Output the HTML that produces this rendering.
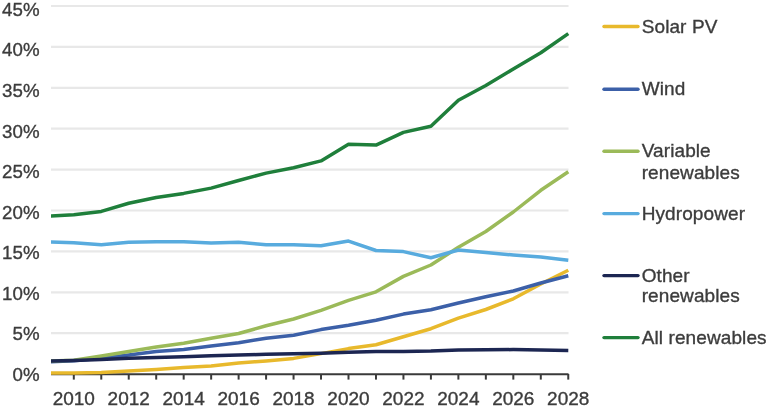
<!DOCTYPE html><html><head><meta charset="utf-8"><style>html,body{margin:0;padding:0;background:#fff;}svg{display:block;filter:blur(0.4px);}text{font-family:"Liberation Sans", sans-serif;font-size:18.7px;fill:#3c3c3c;stroke:#3c3c3c;stroke-width:0.35px;}</style></head><body>
<svg width="768" height="407" viewBox="0 0 768 407">
<rect width="768" height="407" fill="#ffffff"/>
<defs><clipPath id="pc"><rect x="51.0" y="0" width="521.5" height="407"/></clipPath></defs>
<line x1="51.0" y1="333.20" x2="568.5" y2="333.20" stroke="#e8e8e8" stroke-width="2.2"/>
<line x1="51.0" y1="292.30" x2="568.5" y2="292.30" stroke="#e8e8e8" stroke-width="2.2"/>
<line x1="51.0" y1="251.40" x2="568.5" y2="251.40" stroke="#e8e8e8" stroke-width="2.2"/>
<line x1="51.0" y1="210.50" x2="568.5" y2="210.50" stroke="#e8e8e8" stroke-width="2.2"/>
<line x1="51.0" y1="169.60" x2="568.5" y2="169.60" stroke="#e8e8e8" stroke-width="2.2"/>
<line x1="51.0" y1="128.70" x2="568.5" y2="128.70" stroke="#e8e8e8" stroke-width="2.2"/>
<line x1="51.0" y1="87.80" x2="568.5" y2="87.80" stroke="#e8e8e8" stroke-width="2.2"/>
<line x1="51.0" y1="46.90" x2="568.5" y2="46.90" stroke="#e8e8e8" stroke-width="2.2"/>
<line x1="51.0" y1="6.00" x2="568.5" y2="6.00" stroke="#e8e8e8" stroke-width="2.2"/>
<text x="39.5" y="380.80" text-anchor="end">0%</text>
<text x="39.5" y="340.26" text-anchor="end">5%</text>
<text x="39.5" y="299.72" text-anchor="end">10%</text>
<text x="39.5" y="259.18" text-anchor="end">15%</text>
<text x="39.5" y="218.64" text-anchor="end">20%</text>
<text x="39.5" y="178.10" text-anchor="end">25%</text>
<text x="39.5" y="137.56" text-anchor="end">30%</text>
<text x="39.5" y="97.02" text-anchor="end">35%</text>
<text x="39.5" y="56.48" text-anchor="end">40%</text>
<text x="39.5" y="15.94" text-anchor="end">45%</text>
<line x1="51.0" y1="374.3" x2="568.5" y2="374.3" stroke="#3a3a3a" stroke-width="1.9"/>
<line x1="73.80" y1="374" x2="73.80" y2="379.6" stroke="#3a3a3a" stroke-width="2"/>
<line x1="101.27" y1="374" x2="101.27" y2="379.6" stroke="#3a3a3a" stroke-width="2"/>
<line x1="128.74" y1="374" x2="128.74" y2="379.6" stroke="#3a3a3a" stroke-width="2"/>
<line x1="156.21" y1="374" x2="156.21" y2="379.6" stroke="#3a3a3a" stroke-width="2"/>
<line x1="183.68" y1="374" x2="183.68" y2="379.6" stroke="#3a3a3a" stroke-width="2"/>
<line x1="211.15" y1="374" x2="211.15" y2="379.6" stroke="#3a3a3a" stroke-width="2"/>
<line x1="238.62" y1="374" x2="238.62" y2="379.6" stroke="#3a3a3a" stroke-width="2"/>
<line x1="266.09" y1="374" x2="266.09" y2="379.6" stroke="#3a3a3a" stroke-width="2"/>
<line x1="293.56" y1="374" x2="293.56" y2="379.6" stroke="#3a3a3a" stroke-width="2"/>
<line x1="321.03" y1="374" x2="321.03" y2="379.6" stroke="#3a3a3a" stroke-width="2"/>
<line x1="348.50" y1="374" x2="348.50" y2="379.6" stroke="#3a3a3a" stroke-width="2"/>
<line x1="375.97" y1="374" x2="375.97" y2="379.6" stroke="#3a3a3a" stroke-width="2"/>
<line x1="403.44" y1="374" x2="403.44" y2="379.6" stroke="#3a3a3a" stroke-width="2"/>
<line x1="430.91" y1="374" x2="430.91" y2="379.6" stroke="#3a3a3a" stroke-width="2"/>
<line x1="458.38" y1="374" x2="458.38" y2="379.6" stroke="#3a3a3a" stroke-width="2"/>
<line x1="485.85" y1="374" x2="485.85" y2="379.6" stroke="#3a3a3a" stroke-width="2"/>
<line x1="513.32" y1="374" x2="513.32" y2="379.6" stroke="#3a3a3a" stroke-width="2"/>
<line x1="540.79" y1="374" x2="540.79" y2="379.6" stroke="#3a3a3a" stroke-width="2"/>
<line x1="568.26" y1="374" x2="568.26" y2="379.6" stroke="#3a3a3a" stroke-width="2"/>
<g clip-path="url(#pc)" fill="none" stroke-width="3.5" stroke-linejoin="round" stroke-linecap="butt">
<polyline points="46.3,373.1 73.8,373.0 101.3,372.4 128.7,371.1 156.2,369.6 183.7,367.6 211.1,365.9 238.6,363.1 266.1,361.0 293.6,358.4 321.0,353.6 348.5,348.6 376.0,344.8 403.4,336.8 430.9,328.7 458.4,318.1 485.8,309.5 513.3,298.8 540.8,284.0 568.3,270.3" stroke="#E8B92C"/>
<polyline points="46.3,362.0 73.8,360.8 101.3,358.3 128.7,354.9 156.2,351.4 183.7,349.4 211.1,346.0 238.6,342.7 266.1,338.3 293.6,335.2 321.0,329.6 348.5,325.3 376.0,320.3 403.4,314.1 430.9,309.8 458.4,303.0 485.8,296.7 513.3,291.0 540.8,283.0 568.3,275.8" stroke="#3C60A8"/>
<polyline points="46.3,361.0 73.8,360.3 101.3,356.0 128.7,351.6 156.2,347.0 183.7,343.3 211.1,338.3 238.6,333.5 266.1,325.8 293.6,319.0 321.0,310.3 348.5,300.3 376.0,291.8 403.4,276.4 430.9,265.0 458.4,247.3 485.8,231.5 513.3,212.0 540.8,190.3 568.3,171.8" stroke="#9BBA59"/>
<polyline points="46.3,241.9 73.8,242.7 101.3,244.7 128.7,242.3 156.2,241.8 183.7,241.7 211.1,243.0 238.6,242.2 266.1,244.7 293.6,244.8 321.0,245.7 348.5,241.1 376.0,250.5 403.4,251.6 430.9,257.8 458.4,250.0 485.8,252.6 513.3,255.0 540.8,257.0 568.3,260.2" stroke="#58ABDE"/>
<polyline points="46.3,361.2 73.8,360.6 101.3,359.6 128.7,358.3 156.2,357.5 183.7,356.7 211.1,355.8 238.6,355.0 266.1,354.3 293.6,353.7 321.0,353.3 348.5,352.3 376.0,351.4 403.4,351.5 430.9,351.1 458.4,349.9 485.8,349.7 513.3,349.6 540.8,350.0 568.3,350.4" stroke="#1C2652"/>
<polyline points="46.3,216.2 73.8,214.7 101.3,211.4 128.7,203.3 156.2,197.5 183.7,193.4 211.1,188.1 238.6,180.5 266.1,173.1 293.6,167.7 321.0,160.9 348.5,144.2 376.0,145.1 403.4,132.4 430.9,126.2 458.4,100.3 485.8,85.5 513.3,69.0 540.8,52.8 568.3,33.6" stroke="#1F7F3B"/>
</g>
<text x="73.80" y="404.8" text-anchor="middle" style="font-size:19px">2010</text>
<text x="128.74" y="404.8" text-anchor="middle" style="font-size:19px">2012</text>
<text x="183.68" y="404.8" text-anchor="middle" style="font-size:19px">2014</text>
<text x="238.62" y="404.8" text-anchor="middle" style="font-size:19px">2016</text>
<text x="293.56" y="404.8" text-anchor="middle" style="font-size:19px">2018</text>
<text x="348.50" y="404.8" text-anchor="middle" style="font-size:19px">2020</text>
<text x="403.44" y="404.8" text-anchor="middle" style="font-size:19px">2022</text>
<text x="458.38" y="404.8" text-anchor="middle" style="font-size:19px">2024</text>
<text x="513.32" y="404.8" text-anchor="middle" style="font-size:19px">2026</text>
<text x="568.26" y="404.8" text-anchor="middle" style="font-size:19px">2028</text>
<line x1="604" y1="26.5" x2="638" y2="26.5" stroke="#E8B92C" stroke-width="3.4" stroke-linecap="round"/>
<text x="641.7" y="32.5" style="font-size:19px;letter-spacing:0.1px">Solar PV</text>
<line x1="604" y1="89.3" x2="638" y2="89.3" stroke="#3C60A8" stroke-width="3.4" stroke-linecap="round"/>
<text x="641.7" y="95.3" style="font-size:19px;letter-spacing:0.1px">Wind</text>
<line x1="604" y1="151.3" x2="638" y2="151.3" stroke="#9BBA59" stroke-width="3.4" stroke-linecap="round"/>
<text x="641.7" y="157.3" style="font-size:19px;letter-spacing:0.1px">Variable</text>
<text x="641.7" y="179.3" style="font-size:19px;letter-spacing:0.1px">renewables</text>
<line x1="604" y1="213.6" x2="638" y2="213.6" stroke="#58ABDE" stroke-width="3.4" stroke-linecap="round"/>
<text x="641.7" y="219.6" style="font-size:19px;letter-spacing:0.1px">Hydropower</text>
<line x1="604" y1="275.6" x2="638" y2="275.6" stroke="#1C2652" stroke-width="3.4" stroke-linecap="round"/>
<text x="641.7" y="281.6" style="font-size:19px;letter-spacing:0.1px">Other</text>
<text x="641.7" y="302.4" style="font-size:19px;letter-spacing:0.1px">renewables</text>
<line x1="604" y1="337.6" x2="638" y2="337.6" stroke="#1F7F3B" stroke-width="3.4" stroke-linecap="round"/>
<text x="641.7" y="343.6" style="font-size:19px;letter-spacing:0.1px">All renewables</text>
</svg></body></html>
